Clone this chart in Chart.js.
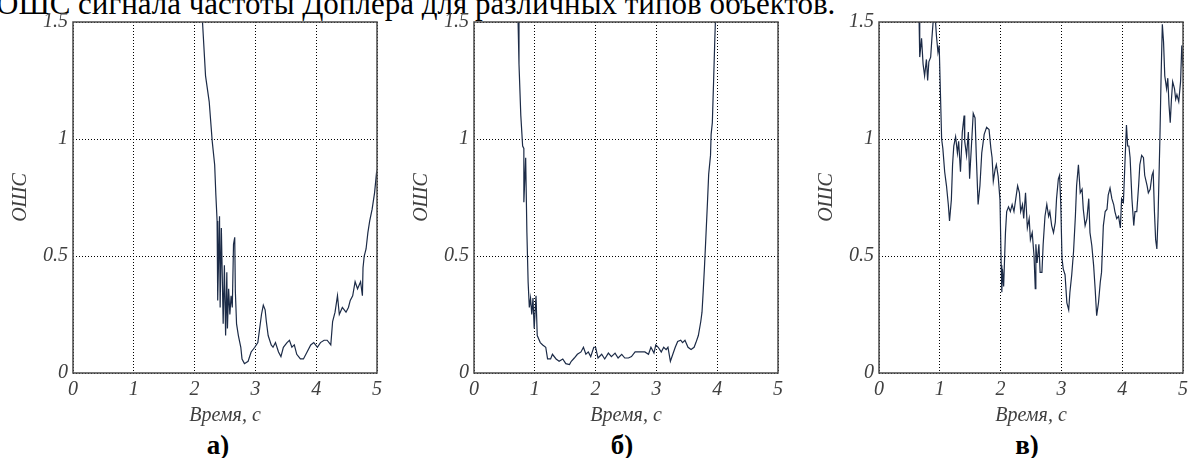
<!DOCTYPE html>
<html lang="ru">
<head>
<meta charset="utf-8">
<script src="https://cdn.jsdelivr.net/npm/chart.js@4.4.1/dist/chart.umd.min.js"></script>
<style>
  html, body { margin: 0; padding: 0; background: #fff; overflow: hidden; }
  body { width: 1188px; height: 458px; position: relative; }
  canvas { position: absolute; top: 0; }
  #heading {
    position: absolute; left: -4px; top: -12px;
    font: 31px/31px "Liberation Serif", serif; color: #000; white-space: nowrap;
  }
  .caption {
    position: absolute; top: 432px; width: 100px; text-align: center;
    font: bold 27px/27px "Liberation Serif", serif; color: #000;
  }
</style>
</head>
<body>
<div id="heading">ОШС сигнала частоты Доплера для различных типов объектов.</div>

<canvas id="chart-a" width="400" height="428" style="left:0px"></canvas>
<canvas id="chart-b" width="400" height="428" style="left:401px"></canvas>
<canvas id="chart-c" width="382" height="428" style="left:806px"></canvas>

<div class="caption" style="left:168px">а)</div>
<div class="caption" style="left:572px">б)</div>
<div class="caption" style="left:977px">в)</div>

<script>
// axis ticks
const xTicks = [0, 1, 2, 3, 4, 5];
const yTicks = [0, 0.5, 1, 1.5];
const xTitle = 'Время, с';
const yTitle = 'ОШС';

// panel а)
const timeA = [2.13, 2.18, 2.24, 2.29, 2.33, 2.35, 2.37, 2.38, 2.41, 2.42, 2.44, 2.47, 2.49, 2.51, 2.53, 2.54, 2.56, 2.58, 2.60, 2.62,
  2.64, 2.66, 2.67, 2.69, 2.72, 2.76, 2.78, 2.82, 2.88, 2.93, 2.99, 3.04, 3.10, 3.13, 3.16, 3.18, 3.21, 3.26, 3.29, 3.33,
  3.38, 3.42, 3.46, 3.52, 3.56, 3.60, 3.64, 3.68, 3.74, 3.79, 3.85, 3.91, 3.96, 4.02, 4.07, 4.13, 4.18, 4.24, 4.27, 4.31,
  4.35, 4.38, 4.43, 4.49, 4.53, 4.56, 4.60, 4.64, 4.68, 4.73, 4.76, 4.77, 4.79, 4.82, 4.85, 4.88, 4.92, 4.96, 4.99, 5.00];
const oshsA = [1.50, 1.27, 1.16, 0.99, 0.89, 0.76, 0.65, 0.31, 0.67, 0.28, 0.62, 0.21, 0.46, 0.16, 0.43, 0.19, 0.36, 0.25, 0.33, 0.28,
  0.55, 0.58, 0.35, 0.21, 0.16, 0.11, 0.06, 0.04, 0.05, 0.09, 0.11, 0.13, 0.25, 0.29, 0.27, 0.22, 0.16, 0.12, 0.11, 0.13,
  0.09, 0.07, 0.11, 0.13, 0.14, 0.11, 0.12, 0.08, 0.06, 0.06, 0.09, 0.12, 0.13, 0.11, 0.13, 0.14, 0.14, 0.12, 0.22, 0.26,
  0.33, 0.25, 0.28, 0.26, 0.28, 0.31, 0.33, 0.39, 0.36, 0.39, 0.33, 0.45, 0.50, 0.53, 0.60, 0.65, 0.70, 0.77, 0.85, 0.83];

// panel б)
const timeB = [0.725, 0.74, 0.77, 0.80, 0.82, 0.82, 0.85, 0.87, 0.89, 0.91, 0.93, 0.95, 0.97, 0.99, 1.02, 1.04, 1.09, 1.13, 1.18, 1.21,
  1.26, 1.29, 1.35, 1.40, 1.46, 1.51, 1.57, 1.60, 1.65, 1.70, 1.76, 1.80, 1.84, 1.88, 1.92, 1.97, 2.00, 2.04, 2.10, 2.15,
  2.21, 2.26, 2.32, 2.37, 2.43, 2.48, 2.54, 2.59, 2.65, 2.70, 2.76, 2.81, 2.87, 2.91, 2.96, 2.99, 3.03, 3.08, 3.12, 3.16,
  3.19, 3.23, 3.27, 3.31, 3.35, 3.40, 3.43, 3.47, 3.52, 3.57, 3.62, 3.65, 3.69, 3.73, 3.75, 3.77, 3.79, 3.81, 3.84, 3.86,
  3.89, 3.90, 3.92, 3.94, 3.96, 3.97];
const oshsB = [1.50, 1.32, 1.10, 0.97, 0.96, 0.73, 0.92, 0.60, 0.39, 0.28, 0.32, 0.25, 0.32, 0.19, 0.33, 0.16, 0.13, 0.12, 0.11, 0.06,
  0.06, 0.08, 0.06, 0.05, 0.06, 0.04, 0.036, 0.05, 0.064, 0.08, 0.09, 0.11, 0.08, 0.09, 0.07, 0.11, 0.11, 0.064, 0.08, 0.06,
  0.085, 0.07, 0.085, 0.064, 0.08, 0.064, 0.064, 0.07, 0.09, 0.09, 0.09, 0.09, 0.08, 0.11, 0.085, 0.12, 0.11, 0.09, 0.11, 0.10,
  0.11, 0.05, 0.08, 0.11, 0.135, 0.14, 0.13, 0.14, 0.11, 0.10, 0.11, 0.13, 0.16, 0.22, 0.26, 0.35, 0.45, 0.56, 0.73, 0.85,
  0.93, 1.02, 1.07, 1.24, 1.42, 1.50];

// panel в)
const timeC = [0.66, 0.67, 0.70, 0.725, 0.75, 0.78, 0.80, 0.82, 0.85, 0.87, 0.89, 0.93, 0.945, 0.97, 0.99, 1.01, 1.03, 1.05, 1.08, 1.11,
  1.14, 1.16, 1.19, 1.21, 1.23, 1.26, 1.29, 1.31, 1.34, 1.37, 1.40, 1.41, 1.44, 1.47, 1.49, 1.52, 1.55, 1.58, 1.60, 1.63,
  1.66, 1.69, 1.73, 1.77, 1.81, 1.84, 1.86, 1.88, 1.91, 1.93, 1.96, 1.99, 2.01, 2.02, 2.03, 2.05, 2.08, 2.10, 2.13, 2.16,
  2.19, 2.22, 2.25, 2.28, 2.31, 2.33, 2.36, 2.38, 2.41, 2.44, 2.47, 2.49, 2.52, 2.55, 2.57, 2.58, 2.60, 2.63, 2.65, 2.68,
  2.70, 2.73, 2.76, 2.79, 2.81, 2.84, 2.87, 2.90, 2.92, 2.95, 2.97, 2.99, 3.01, 3.03, 3.06, 3.09, 3.12, 3.14, 3.17, 3.20,
  3.23, 3.25, 3.28, 3.31, 3.34, 3.36, 3.39, 3.42, 3.45, 3.47, 3.50, 3.53, 3.555, 3.58, 3.61, 3.64, 3.66, 3.69, 3.72, 3.75,
  3.77, 3.80, 3.83, 3.86, 3.88, 3.91, 3.94, 3.97, 3.99, 4.02, 4.05, 4.07, 4.09, 4.11, 4.13, 4.16, 4.19, 4.21, 4.24, 4.27,
  4.29, 4.32, 4.35, 4.37, 4.41, 4.43, 4.46, 4.49, 4.51, 4.53, 4.55, 4.57, 4.59, 4.62, 4.64, 4.66, 4.68, 4.70, 4.73, 4.75,
  4.77, 4.79, 4.81, 4.83, 4.86, 4.88, 4.90, 4.93, 4.96, 4.98, 5.00];
const oshsC = [1.50, 1.35, 1.43, 1.32, 1.27, 1.34, 1.25, 1.33, 1.35, 1.43, 1.50, 1.50, 1.44, 1.37, 1.40, 1.20, 1.00, 0.96, 0.86, 0.80,
  0.72, 0.65, 0.74, 0.89, 0.97, 1.01, 0.94, 0.99, 0.86, 1.03, 1.10, 0.99, 0.93, 1.03, 0.83, 0.97, 1.11, 1.09, 0.93, 0.72,
  0.80, 0.94, 1.02, 1.05, 1.04, 0.96, 0.92, 0.82, 0.87, 0.89, 0.84, 0.74, 0.46, 0.345, 0.445, 0.37, 0.60, 0.69, 0.71, 0.69,
  0.72, 0.69, 0.745, 0.80, 0.77, 0.69, 0.72, 0.66, 0.77, 0.62, 0.66, 0.57, 0.60, 0.50, 0.36, 0.55, 0.47, 0.55, 0.43, 0.43,
  0.55, 0.67, 0.72, 0.67, 0.69, 0.63, 0.60, 0.645, 0.745, 0.83, 0.845, 0.72, 0.49, 0.445, 0.42, 0.30, 0.27, 0.345, 0.42, 0.52,
  0.67, 0.80, 0.89, 0.77, 0.785, 0.70, 0.63, 0.66, 0.745, 0.60, 0.545, 0.46, 0.36, 0.245, 0.30, 0.39, 0.43, 0.63, 0.69, 0.70,
  0.76, 0.79, 0.745, 0.72, 0.69, 0.66, 0.67, 0.62, 0.745, 0.73, 0.93, 1.06, 0.97, 0.97, 0.92, 0.745, 0.63, 0.69, 0.69, 0.80,
  0.89, 0.93, 0.92, 0.845, 0.80, 0.77, 0.785, 0.845, 0.86, 0.69, 0.57, 0.53, 0.67, 1.00, 1.27, 1.49, 1.415, 1.27, 1.215, 1.26,
  1.145, 1.07, 1.17, 1.245, 1.215, 1.17, 1.19, 1.16, 1.245, 1.40, 1.31];

const LINE_COLOR = '#1c2b47';
const TEXT_COLOR = '#404040';
const GRID_COLOR = '#000000';
const FRAME_COLOR = '#4a4a4a';
const axisFont = {family: '"Liberation Serif", serif', size: 20, style: 'italic'};

// MATLAB-like box around the plot area
const framePlugin = {
  id: 'frame',
  afterDatasetsDraw(chart) {
    const {ctx, chartArea: a} = chart;
    ctx.save();
    ctx.strokeStyle = FRAME_COLOR;
    ctx.lineWidth = 1.5;
    ctx.strokeRect(a.left, a.top, a.right - a.left, a.bottom - a.top);
    ctx.restore();
  }
};

function makePanel(id, times, values, rightPad) {
  const points = times.map((t, i) => ({x: t, y: values[i]}));

  return new Chart(document.getElementById(id), {
    type: 'line',
    data: {
      datasets: [{
        data: points,
        borderColor: LINE_COLOR,
        borderWidth: 1.2,
        pointRadius: 0,
        tension: 0
      }]
    },
    options: {
      responsive: false,
      animation: false,
      events: [],
      layout: {
        padding: {top: 22, right: rightPad, bottom: 0, left: 0}
      },
      plugins: {
        legend: {display: false},
        tooltip: {enabled: false}
      },
      scales: {
        x: {
          type: 'linear',
          min: 0,
          max: 5,
          afterBuildTicks: scale => { scale.ticks = xTicks.map(v => ({value: v})); },
          afterFit: scale => {
            scale.height = 55;
            scale.paddingLeft = 0;
            scale.paddingRight = 0;
          },
          ticks: {
            font: axisFont,
            color: TEXT_COLOR,
            padding: 5,
            maxRotation: 0,
            callback: v => String(v)
          },
          grid: {color: GRID_COLOR, lineWidth: 1, drawTicks: false},
          border: {display: false, dash: [1, 2]},
          title: {display: true, text: xTitle, font: axisFont, color: TEXT_COLOR, padding: {top: 0, bottom: 0}}
        },
        y: {
          type: 'linear',
          min: 0,
          max: 1.5,
          afterBuildTicks: scale => { scale.ticks = yTicks.map(v => ({value: v})); },
          afterFit: scale => {
            scale.width = 73;
            scale.paddingTop = 0;
            scale.paddingBottom = 0;
          },
          ticks: {
            font: axisFont,
            color: TEXT_COLOR,
            padding: 5,
            callback: v => String(v)
          },
          grid: {color: GRID_COLOR, lineWidth: 1, drawTicks: false},
          border: {display: false, dash: [1, 2]},
          title: {display: true, text: yTitle, font: axisFont, color: TEXT_COLOR, padding: {top: 9, bottom: 0}}
        }
      }
    },
    plugins: [framePlugin]
  });
}

makePanel('chart-a', timeA, oshsA, 23);
makePanel('chart-b', timeB, oshsB, 23);
makePanel('chart-c', timeC, oshsC, 5);
</script>
</body>
</html>
